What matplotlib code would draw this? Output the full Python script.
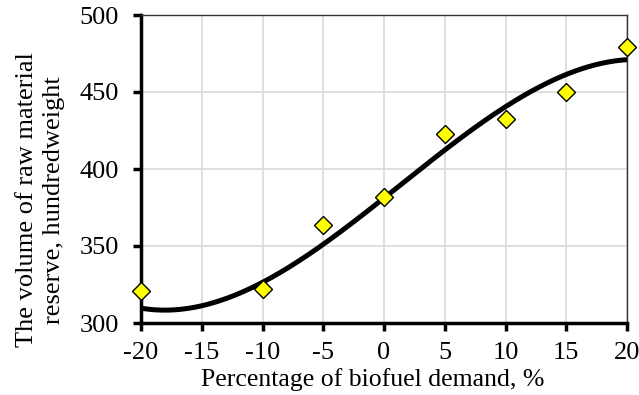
import numpy as np
import matplotlib
matplotlib.use("Agg")
import matplotlib.pyplot as plt

x_vals = [-20, -10, -5, 0, 5, 10, 15, 20]
y_vals = [320.5, 322, 363.5, 381.5, 422.5, 432.5, 450, 479.5]
# trend line
trend_x = [-20, -17.5, -15, -10, -5, 0, 5, 10, 15, 20]
trend_y = [309.5, 308.4, 311.7, 326.2, 350.6, 381, 413.4, 440, 461, 471.2]
x_ticks = [-20, -15, -10, -5, 0, 5, 10, 15, 20]
y_ticks = [300, 350, 400, 450, 500]

plt.rcParams['font.family'] = ['Liberation Serif', 'DejaVu Serif']

fig = plt.figure(figsize=(6.39, 3.95), dpi=100)
ax = fig.add_axes([141/639, 1 - 323/395, (627-141)/639, (323-15)/395])

coef = np.polyfit(trend_x, trend_y, 3)
xs = np.linspace(-20, 20, 300)
ax.plot(xs, np.polyval(coef, xs), color='black', lw=3.6, zorder=3, solid_capstyle='butt')
ax.plot(x_vals, y_vals, ls='none', marker='D', ms=9.5, mfc='#ffff00', mec='black', mew=1.0, zorder=4, clip_on=False)

ax.set_xlim(-20, 20)
ax.set_ylim(300, 500)
ax.set_xticks(x_ticks)
ax.set_yticks(y_ticks)
ax.set_xticklabels([str(t) for t in x_ticks])
ax.grid(True, color='#d9d9d9', lw=1.2)
ax.set_axisbelow(True)
for s in ['left', 'bottom']:
    ax.spines[s].set_linewidth(2.5)
    ax.spines[s].set_color('black')
for s in ['top', 'right']:
    ax.spines[s].set_linewidth(1.0)
    ax.spines[s].set_color('#333333')
ax.tick_params(axis='both', direction='out', length=6, width=2.5, labelsize=19, color='black')
ax.tick_params(axis='x', pad=8)
ax.tick_params(axis='y', pad=10)
ax.set_xlabel('Percentage of biofuel demand, %', fontsize=18.5)
ax.xaxis.set_label_coords(0.477, -0.145)
ax.set_ylabel('The volume of raw material\nreserve, hundredweight', fontsize=19, linespacing=1.3)
ax.yaxis.set_label_coords(-0.157, 0.40)

fig.savefig('out.png', dpi=100)
